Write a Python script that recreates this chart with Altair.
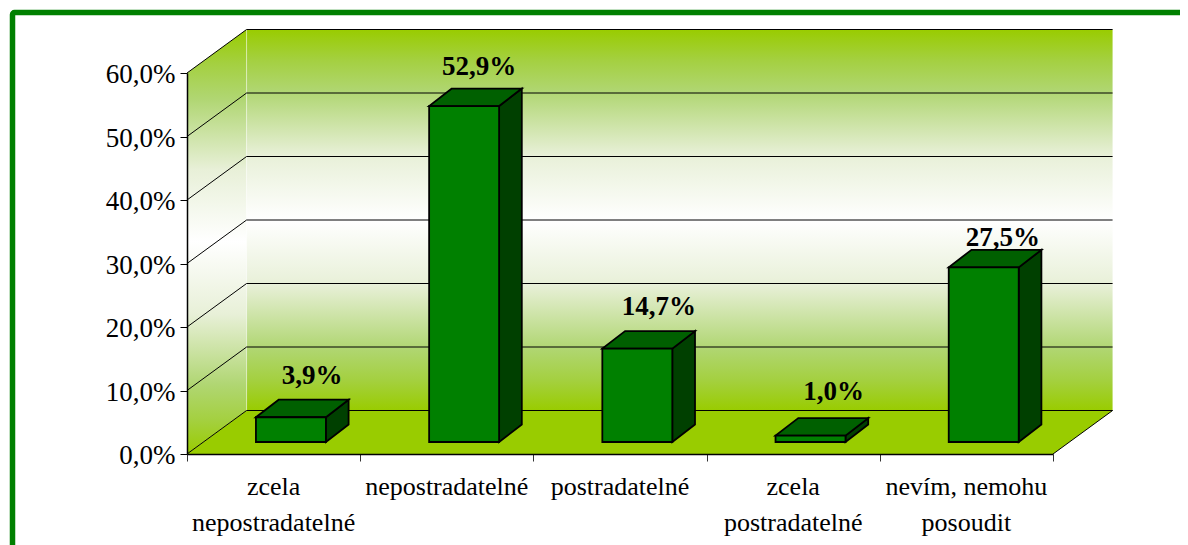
import altair as alt
import pandas as pd

# Data
categories = ["zcela\nnepostradatelné", "nepostradatelné", "postradatelné", "zcela\npostradatelné", "nevím, nemohu\nposoudit"]
values = [3.9, 52.9, 14.7, 1.0, 27.5]
labels = ["3,9%", "52,9%", "14,7%", "1,0%", "27,5%"]
y_ticks = [0, 10, 20, 30, 40, 50, 60]
x_ticks = [0, 1, 2, 3, 4, 5]

# Pseudo-3D layout, in axis units
WALL_DX, WALL_DY = 0.344, 6.85
BAR_DX, BAR_DY = 0.131, 2.76
BAR_BASE = 1.89
BAR_SHIFT, BAR_HALF = 0.6, 0.202
LABEL_NUDGE_X = [0.122, 0.087, 0.125, 0.133, 0.11]
LABEL_NUDGE_Y = [5.2, 4.9, 5.3, 5.6, 3.4]
SERIF = "Liberation Serif"
N = len(categories)
TOP = y_ticks[-1]
W, H = 1172, 537
X0, X1, Y0, Y1 = 179, 1045, 446, 65

xs = alt.Scale(domain=[0, N], range=[X0, X1], nice=False, zero=False)
ys = alt.Scale(domain=[0, TOP], range=[Y0, Y1], nice=False, zero=False)

x_axis = alt.Axis(values=x_ticks, labels=False, title=None, grid=False, tickSize=7, tickColor="#333333",
                  domainColor="#000000", domainWidth=1.5, zindex=1, offset=Y0 - H)
y_axis = alt.Axis(values=y_ticks, title=None, grid=False, tickSize=7, tickColor="#000000",
                  domainColor="#000000", domainWidth=1.5, labelPadding=5, labelOffset=1.5, labelFont=SERIF,
                  labelFontSize=27, labelColor="#000000",
                  labelExpr="replace(format(datum.value,'.1f'),'.',',')+'%'", zindex=1, offset=-X0)

stops = [
    (0, "#99CC00"), (0.08, "#A4D040"), (0.163, "#B0D672"), (0.33, "#E8F0D8"), (0.5, "#FFFFFF"),
    (0.67, "#E8F0D8"), (0.837, "#B0D672"), (0.92, "#A4D040"), (1, "#99CC00"),
]
grad_stops = [alt.GradientStop(color=c, offset=o) for o, c in stops]
wall_grad = alt.LinearGradient(gradient="linear", x1=0, x2=0, y1=0, y2=1, stops=grad_stops)

left_wall = pd.DataFrame({"x": [0, WALL_DX], "y": [0, WALL_DY], "y2": [TOP, TOP + WALL_DY]})
back_wall = pd.DataFrame({"x": [WALL_DX, N + WALL_DX], "y": [WALL_DY] * 2, "y2": [TOP + WALL_DY] * 2})
floor = pd.DataFrame({"y": [0, WALL_DY], "x": [0, WALL_DX], "x2": [N, N + WALL_DX]})

grid = pd.DataFrame(
    [{"x": WALL_DX, "x2": N + WALL_DX, "y": v + WALL_DY, "y2": v + WALL_DY} for v in y_ticks]
    + [{"x": 0, "x2": WALL_DX, "y": v, "y2": v + WALL_DY} for v in y_ticks]
    + [{"x": N, "x2": N + WALL_DX, "y": 0, "y2": WALL_DY}]
)
seam = pd.DataFrame({"x": [WALL_DX], "x2": [WALL_DX], "y": [WALL_DY], "y2": [TOP + WALL_DY]})

front, side, top = [], [], []
for i, v in enumerate(values):
    l = i + BAR_SHIFT - BAR_HALF
    r = i + BAR_SHIFT + BAR_HALF
    t = BAR_BASE + v
    front.append({"x": l, "x2": r, "y": BAR_BASE, "y2": t})
    side += [
        {"bar": i, "x": r, "y": BAR_BASE, "y2": t},
        {"bar": i, "x": r + BAR_DX, "y": BAR_BASE + BAR_DY, "y2": t + BAR_DY},
    ]
    top += [
        {"bar": i, "y": t, "x": l, "x2": r},
        {"bar": i, "y": t + BAR_DY, "x": l + BAR_DX, "x2": r + BAR_DX},
    ]
front, side, top = pd.DataFrame(front), pd.DataFrame(side), pd.DataFrame(top)

data_labels = pd.DataFrame({
    "x": [i + BAR_SHIFT + n for i, n in enumerate(LABEL_NUDGE_X)],
    "y": [BAR_BASE + v + n for v, n in zip(values, LABEL_NUDGE_Y)],
    "t": labels,
})
cat_labels = pd.DataFrame({"x": [i + 0.5 for i in range(N)], "y": [-6.46] * N, "t": categories})

X = alt.X("x:Q", scale=xs, axis=x_axis)
Y = alt.Y("y:Q", scale=ys, axis=y_axis)

walls_left = alt.Chart(left_wall).mark_area(color=wall_grad, orient="vertical").encode(x=X, y=Y, y2="y2:Q")
walls_back = alt.Chart(back_wall).mark_area(color=wall_grad, orient="vertical").encode(x=X, y=Y, y2="y2:Q")
seam_layer = alt.Chart(seam).mark_rule(color="#FFFFFF", opacity=0.45, strokeWidth=1).encode(x=X, x2="x2:Q", y=Y, y2="y2:Q")
floor_layer = alt.Chart(floor).mark_area(color="#99CC00", orient="horizontal").encode(y=Y, x=X, x2="x2:Q")
grid_layer = alt.Chart(grid).mark_rule(color="#000000", strokeWidth=1).encode(x=X, x2="x2:Q", y=Y, y2="y2:Q")

bar_style = dict(stroke="#000000", strokeWidth=1.8)
front_layer = alt.Chart(front).mark_rect(fill="#008000", **bar_style).encode(x=X, x2="x2:Q", y=Y, y2="y2:Q")
side_layer = alt.Chart(side).mark_area(fill="#004000", orient="vertical", **bar_style).encode(
    x=X, y=Y, y2="y2:Q", detail="bar:N")
top_layer = alt.Chart(top).mark_area(fill="#006000", orient="horizontal", **bar_style).encode(
    y=Y, x=X, x2="x2:Q", detail="bar:N")

label_layer = alt.Chart(data_labels).mark_text(
    font=SERIF, fontSize=27, fontWeight="bold", color="#000000", baseline="alphabetic", align="center"
).encode(x=X, y=Y, text="t:N")
cat_layer = alt.Chart(cat_labels).mark_text(
    font=SERIF, fontSize=26, color="#000000", baseline="alphabetic", align="center", lineBreak="\n", lineHeight=36
).encode(x=X, y=Y, text="t:N")

border = alt.Chart(pd.DataFrame({"k": [0]})).mark_rect(
    fill="transparent", stroke="#008000", strokeWidth=5.5, cornerRadius=2
).encode(x=alt.value(4.5), x2=alt.value(1400), y=alt.value(4.5), y2=alt.value(900))

chart = alt.layer(
    walls_left, walls_back, seam_layer, floor_layer, grid_layer,
    side_layer, top_layer, front_layer, label_layer, cat_layer, border,
).properties(
    width=W, height=H, padding=0, background="#FFFFFF",
    autosize=alt.AutoSizeParams(type="none"),
).configure_view(stroke=None)

chart.save("out.html", embed_options={"renderer": "svg", "actions": False})
